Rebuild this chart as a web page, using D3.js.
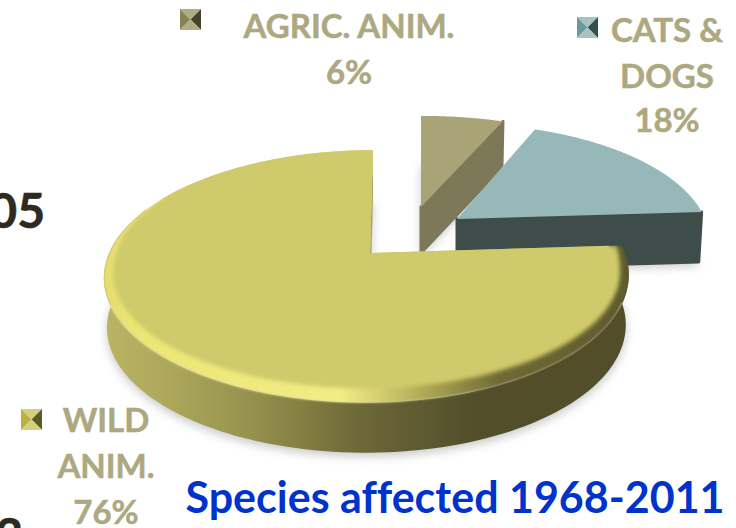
<!DOCTYPE html>
<html>
<head>
<meta charset="utf-8">
<script src="https://cdn.jsdelivr.net/npm/d3@7"></script>
<style>
html,body{margin:0;padding:0;background:#fff;overflow:hidden}
svg{display:block}
text{font-family:Lato,"Open Sans",sans-serif;font-weight:700;font-variant-ligatures:none}
</style>
</head>
<body>
<svg id="chart" width="736" height="528"></svg>
<script>
// Species shares, clockwise from twelve o'clock
const categories = ["AGRIC. ANIM.", "CATS & DOGS", "WILD ANIM."];
const shares = [6, 18, 76];
const topColours = ["#a8a478", "#97b8b9", "#cfca6b"];
const wallColours = ["#7c7858", "#3f4d4a", "#a5a05a"];

// Projected placement of each exploded wedge
const apexX = [421, 457, 370];
const apexY = [207, 219, 253];
const radiusX = [261, 248, 258];
const radiusY = [108, 113, 122];
const depth = [46, 50, 50];
const skew = [0, 0, 3.5];
const bulge = [0, 0, -3];

const labelLines = [["AGRIC. ANIM.", "6%"], ["CATS &", "DOGS", "18%"], ["WILD", "ANIM.", "76%"]];
const labelX = [349, 667, 106];
const labelY = [[38, 84], [42, 88, 132], [432, 478, 524]];
const markerX = [180, 577, 21];
const markerY = [9, 17, 409];
const title = "Species affected 1968-2011";

const perspective = 0.1853;
const svg = d3.select("#chart");
const defs = svg.append("defs");

const pie = d3.pie().sort(null).value(d => d).startAngle(0).endAngle(2 * Math.PI);
const arcs = pie(shares);

// Maps an angle on the disc (r = radial fraction, z = 0 top, 1 bottom) to the page
function project(i, angle, r = 1, z = 0, inset = false) {
  let X = Math.sin(angle) * r, Y = -Math.cos(angle) * r;
  if (inset) {
    const t = Math.max(0, Math.min(1, (Y + 0.5) / 0.6));
    X *= 1 - 0.032 * t;
    if (Y > 0) Y *= 1 - 0.08 * t;
  }
  const s = 1 / (1 - perspective * Y);
  const sx = (radiusX[i] * X + bulge[i] * X * X - skew[i] * Y) * s * (1 - 0.012 * z);
  const sy = radiusY[i] * Y * s + depth[i] * z;
  return [apexX[i] + sx, apexY[i] + sy];
}

const line = d3.line();
const samples = (a0, a1) => d3.range(0, 121).map(k => a0 + (a1 - a0) * k / 120);

function sectorPath(i, a, z = 0, inset = false) {
  const rim = samples(a.startAngle, a.endAngle).map(t => project(i, t, 1, z, inset));
  return line([project(i, 0, 0, z), ...rim]) + "Z";
}

// Horizontal gradients for the lit rim and the outer wall of the large wedge
function hGradient(id, stops) {
  const g = defs.append("linearGradient").attr("id", id)
    .attr("gradientUnits", "userSpaceOnUse")
    .attr("x1", 104).attr("x2", 630).attr("y1", 0).attr("y2", 0);
  const pos = d3.scaleLinear().domain([104, 630]).range([0, 1]);
  stops.forEach(([x, c]) => g.append("stop").attr("offset", pos(x)).attr("stop-color", c));
}
hGradient("rim", [[104, "#e4dc70"], [130, "#ece573"], [250, "#f0ea7e"], [340, "#f2ec86"],
  [375, "#d8d272"], [430, "#a9a452"], [500, "#6f6a35"], [630, "#5f5a2e"]]);
hGradient("wall", [[104, "#bab564"], [170, "#aca75b"], [240, "#999550"], [300, "#857f42"],
  [360, "#6c6838"], [430, "#5c5830"], [475, "#524e2a"], [630, "#524e2a"]]);

function blurFilter(id, sd) {
  defs.append("filter").attr("id", id).attr("x", "-20%").attr("y", "-20%").attr("width", "140%").attr("height", "140%")
    .append("feGaussianBlur").attr("stdDeviation", sd);
}
blurFilter("soft", 5);
blurFilter("bevel", 2);
blurFilter("rimSoft", 1);

const pieLayer = svg.append("g");

arcs.forEach((a, i) => {
  const g = pieLayer.append("g");

  // Soft ground shadow cast by the underside
  g.append("path").attr("d", sectorPath(i, a, 1))
    .attr("transform", "translate(0,4)")
    .attr("fill", "#a0a0a0").attr("opacity", 0.55).attr("filter", "url(#soft)");

  // Radial wall along the wedge's clockwise edge
  const wall = [project(i, a.endAngle, 0, 0), project(i, a.endAngle, 1, 0),
                project(i, a.endAngle, 1, 1), project(i, a.endAngle, 0, 1)];
  g.append("path").attr("d", line(wall) + "Z")
    .attr("fill", wallColours[i]).attr("stroke", i === 2 ? "none" : wallColours[i])
    .attr("stroke-width", 3).attr("stroke-linejoin", "round");

  if (i === 2) {
    // Outer curved wall, then the lit rim and the slightly inset top face
    const a0 = a.startAngle, a1 = a.startAngle + 3.6;
    const up = samples(a0, a1).map(t => project(i, t, 1, 0));
    const down = samples(a1, a0).map(t => project(i, t, 1, 1));
    const wallPath = line([...up, ...down]) + "Z";
    g.append("path").attr("d", wallPath).attr("fill", "url(#wall)");

    // Blurred layers stay inside the solid silhouette so its outline remains crisp
    const clip = defs.append("clipPath").attr("id", "solid");
    clip.append("path").attr("d", sectorPath(i, a));
    clip.append("path").attr("d", wallPath);
    const lit = g.append("g").attr("clip-path", "url(#solid)");
    lit.append("path").attr("d", sectorPath(i, a)).attr("fill", "url(#rim)").attr("filter", "url(#rimSoft)");
    lit.append("path").attr("d", sectorPath(i, a, 0, true)).attr("fill", topColours[i]).attr("filter", "url(#bevel)");

    // The far part of the disc carries no highlight
    const farStart = Math.PI * 2 * 0.83;
    const far = samples(farStart, a.endAngle).map(t => project(i, t, 1, 0));
    g.append("path").attr("d", line([project(i, 0, 0), ...far]) + "Z").attr("fill", topColours[i]);
    // Crisp inner face keeps the straight edges sharp
    const crisp = samples(a.startAngle, a.endAngle).map(t => project(i, t, 0.97, 0, true));
    g.append("path").attr("d", line([project(i, 0, 0), ...crisp]) + "Z").attr("fill", topColours[i]);
  } else {
    g.append("path").attr("d", sectorPath(i, a)).attr("fill", topColours[i]);
  }
});

// Pyramid-shaped legend markers
const markerSize = 21;
categories.forEach((name, i) => {
  const base = d3.hsl(topColours[i]);
  const g = svg.append("g").attr("transform", `translate(${markerX[i]},${markerY[i]})`);
  const s = markerSize, c = [s * 0.5, s * 0.5];
  const faces = [
    [[[0, 0], [s, 0], c], base.brighter(0.2)],
    [[[0, 0], [0, s], c], base.darker(0.7)],
    [[[s, 0], [s, s], c], base.darker(2.6)],
    [[[0, s], [s, s], c], base.brighter(0.2)]
  ];
  faces.forEach(([pts, col]) => g.append("path").attr("d", line(pts) + "Z").attr("fill", col));
});

// Category labels with their percentages
labelLines.forEach((lines, i) => {
  lines.forEach((txt, k) => {
    svg.append("text").attr("x", labelX[i]).attr("y", labelY[i][k])
      .attr("text-anchor", "middle").attr("font-size", 33).attr("fill", "#ada880")
      .attr("stroke", "#ada880").attr("stroke-width", 0.5).text(txt);
  });
});

svg.append("text").attr("x", 455).attr("y", 513).attr("text-anchor", "middle")
  .attr("font-size", 43).attr("fill", "#0033cc").text(title);

// Neighbouring figures that run off the slide edge
svg.append("text").attr("x", 45).attr("y", 228).attr("text-anchor", "end")
  .attr("font-size", 48).attr("fill", "#2f2a1f").attr("stroke", "#2f2a1f").attr("stroke-width", 0.6).text("05");
svg.append("text").attr("x", 23).attr("y", 553).attr("text-anchor", "end")
  .attr("font-size", 48).attr("fill", "#2f2a1f").attr("stroke", "#2f2a1f").attr("stroke-width", 0.6).text("3");
</script>
</body>
</html>
